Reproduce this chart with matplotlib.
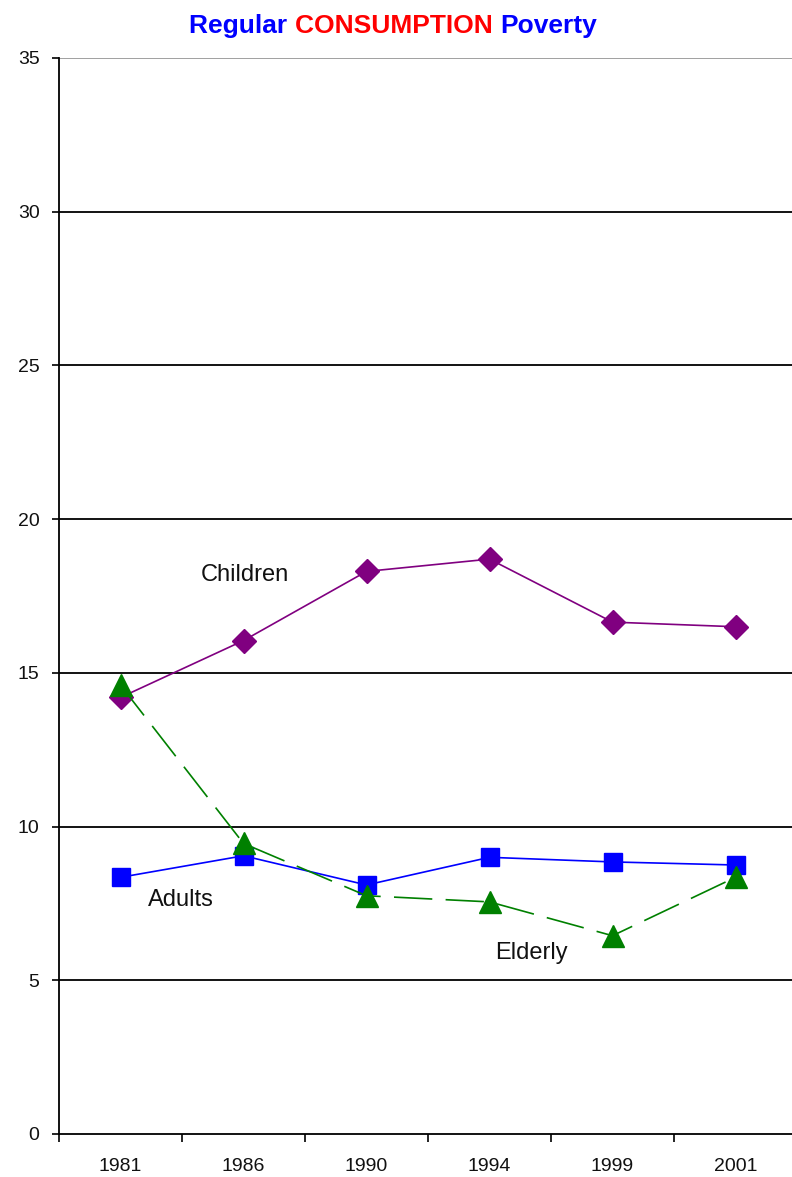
import matplotlib
matplotlib.use("Agg")
import matplotlib.pyplot as plt
from matplotlib.ticker import FixedLocator, NullFormatter

plt.rcParams['font.family'] = ['Liberation Sans', 'DejaVu Sans']

years = ["1981", "1986", "1990", "1994", "1999", "2001"]
children = [14.2, 16.05, 18.3, 18.7, 16.65, 16.5]
adults = [8.35, 9.05, 8.1, 9.0, 8.85, 8.75]
elderly = [14.6, 9.45, 7.75, 7.55, 6.45, 8.35]
y_ticks = [0, 5, 10, 15, 20, 25, 30, 35]

fig = plt.figure(figsize=(7.92, 11.77), dpi=100)
ax = fig.add_axes([59 / 792, 43 / 1177, 738 / 792, 1076 / 1177])

x = list(range(len(years)))

# horizontal grid
for v in y_ticks[1:]:
    ax.axhline(v, color="#999999" if v == 35 else "black", lw=1.3, zorder=1)

ax.plot(x, children, color="#800080", lw=1.2, marker="D", markersize=12.5,
        markerfacecolor="#800080", markeredgecolor="#800080", zorder=3)
ax.plot(x, adults, color="#0000FF", lw=1.2, marker="s", markersize=13.5,
        markerfacecolor="#0000FF", markeredgecolor="#0000FF", zorder=4)
ax.plot(x, elderly, color="#008000", lw=1.2, ls=(0, (23, 8)), marker="^",
        markersize=15.5, markerfacecolor="#008000", markeredgecolor="#008000",
        zorder=5)

ax.text(1.01, 18.18, "Children", fontsize=17, ha="center", va="center", color="#111111")
ax.text(0.49, 7.61, "Adults", fontsize=17, ha="center", va="center", color="#111111")
ax.text(3.34, 5.89, "Elderly", fontsize=17, ha="center", va="center", color="#111111")

ax.set_xlim(-0.5, 5.5)
ax.set_ylim(0, 35)

ax.set_yticks(y_ticks)
ax.set_yticklabels([str(v) for v in y_ticks])
ax.set_xticks(x)
ax.set_xticklabels(years)
ax.xaxis.set_minor_locator(FixedLocator([i - 0.5 for i in range(len(years) + 1)]))
ax.xaxis.set_minor_formatter(NullFormatter())

ax.tick_params(axis="x", which="major", length=0, pad=17, labelsize=14, colors="#111111")
ax.tick_params(axis="x", which="minor", length=6, width=1.2, direction="out", color="black")
ax.tick_params(axis="y", length=5, width=1.2, direction="out", pad=9, labelsize=14, colors="#111111")
ax.tick_params(axis="y", color="black")

for s in ["top", "right"]:
    ax.spines[s].set_visible(False)
for s in ["left", "bottom"]:
    ax.spines[s].set_color("black")
    ax.spines[s].set_linewidth(1.3)

# three-colour title
parts = [("Regular ", "#0000FF"), ("CONSUMPTION ", "#FF0000"), ("Poverty", "#0000FF")]
renderer = fig.canvas.get_renderer()
texts = []
for s, c in parts:
    t = fig.text(0, 0, s, fontsize=19, fontweight="bold", color=c, va="center")
    texts.append(t)
widths = [t.get_window_extent(renderer).width for t in texts]
total = sum(widths)
xpix = 393 - total / 2
for t, w in zip(texts, widths):
    t.set_position((xpix / 792, 1 - 26 / 1177))
    xpix += w

fig.savefig("out.png", dpi=100, facecolor="white")
